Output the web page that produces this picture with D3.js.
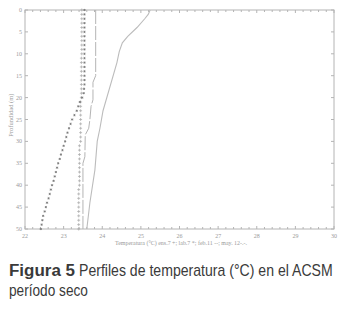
<!DOCTYPE html>
<html>
<head>
<meta charset="utf-8">
<script src="https://cdnjs.cloudflare.com/ajax/libs/d3/7.8.5/d3.min.js"></script>
<style>
  body { margin: 0; background: #fff; }
  svg { display: block; }
</style>
</head>
<body>
<div id="chart"></div>
<script>
// depth (m) of the sampled levels, ens.7 (+) and lab.7 (*)
const depths = [0,1,2,3,4,5,6,7,8,9,10,11,12,13,14,15,16,17,18,19,20,21,22,23,24,25,26,27,28,29,30,31,32,33,34,35,36,37,38,39,40,41,42,43,44,45,46,47,48,49,50];
const ensValues = [23.47,23.47,23.47,23.47,23.47,23.47,23.47,23.47,23.47,23.47,23.47,23.46,23.46,23.46,23.46,23.46,23.46,23.46,23.46,23.46,23.46,23.44,23.44,23.44,23.44,23.44,23.44,23.44,23.44,23.44,23.44,23.41,23.41,23.41,23.41,23.41,23.41,23.41,23.41,23.41,23.41,23.39,23.39,23.39,23.39,23.39,23.39,23.39,23.39,23.39,23.39];
const labValues = [23.54,23.54,23.54,23.54,23.54,23.54,23.54,23.54,23.54,23.54,23.54,23.54,23.54,23.54,23.54,23.54,23.54,23.54,23.53,23.52,23.48,23.42,23.38,23.34,23.28,23.22,23.18,23.14,23.1,23.07,23.04,23.0,22.97,22.93,22.9,22.86,22.83,22.8,22.77,22.74,22.7,22.67,22.64,22.61,22.57,22.54,22.51,22.47,22.45,22.43,22.41];

// feb.11 (--) profile
const febDepths = [0,15,16.5,20.5,22,25,27,28.5,33.5,35,50];
const febValues = [23.83,23.83,23.76,23.76,23.71,23.68,23.65,23.56,23.55,23.5,23.5];

// may.12 (-.-) profile
const mayDepths = [0,1,2,4,6,7.5,9.5,12,23,27,30,36.5,44,50];
const mayValues = [25.24,25.19,25.1,24.9,24.66,24.52,24.44,24.38,24.02,23.94,23.87,23.81,23.68,23.6];

const xTicks = [22,23,24,25,26,27,28,29,30];
const yTicks = [0,5,10,15,20,25,30,35,40,45,50];

const width = 344, height = 312;
const margin = {top: 10, right: 10, bottom: 83, left: 25};
const axisColor = "#b4b4b4";
const textColor = "#9a9a9a";

const svg = d3.select("#chart").append("svg")
    .attr("width", width)
    .attr("height", height);

const x = d3.scaleLinear().domain([22, 30]).range([margin.left, width - margin.right]);
const y = d3.scaleLinear().domain([0, 50]).range([margin.top, height - margin.bottom]);

// frame
svg.append("rect")
    .attr("x", x(22)).attr("y", y(0))
    .attr("width", x(30) - x(22)).attr("height", y(50) - y(0))
    .attr("fill", "none")
    .attr("stroke", axisColor)
    .attr("stroke-width", 1);

// x ticks, major + minor (every 0.2), top and bottom, pointing inward
const minorX = d3.range(0, 41).map(i => 22 + i * 0.2).filter(v => Math.abs(v - Math.round(v)) > 0.01);
const tickG = svg.append("g").attr("stroke", axisColor).attr("stroke-width", 1);
xTicks.forEach(v => {
    tickG.append("line").attr("x1", x(v)).attr("x2", x(v)).attr("y1", y(0)).attr("y2", y(0) + 3);
    tickG.append("line").attr("x1", x(v)).attr("x2", x(v)).attr("y1", y(50)).attr("y2", y(50) - 3);
});
minorX.forEach(v => {
    tickG.append("line").attr("x1", x(v)).attr("x2", x(v)).attr("y1", y(0)).attr("y2", y(0) + 2);
    tickG.append("line").attr("x1", x(v)).attr("x2", x(v)).attr("y1", y(50)).attr("y2", y(50) - 2);
});
yTicks.forEach(v => {
    tickG.append("line").attr("x1", x(22)).attr("x2", x(22) + 3).attr("y1", y(v)).attr("y2", y(v));
    tickG.append("line").attr("x1", x(30)).attr("x2", x(30) - 3).attr("y1", y(v)).attr("y2", y(v));
});

// tick labels
svg.append("g").selectAll("text")
    .data(xTicks)
    .join("text")
    .attr("x", d => x(d))
    .attr("y", y(50) + 9)
    .attr("text-anchor", "middle")
    .attr("font-family", "Liberation Serif, serif")
    .attr("font-size", 6)
    .attr("fill", textColor)
    .text(d => d);

svg.append("g").selectAll("text")
    .data(yTicks)
    .join("text")
    .attr("x", x(22) - 3)
    .attr("y", d => y(d) + 2)
    .attr("text-anchor", "end")
    .attr("font-family", "Liberation Serif, serif")
    .attr("font-size", 6)
    .attr("fill", textColor)
    .text(d => d);

// axis titles
svg.append("text")
    .attr("transform", `translate(13, ${y(24)}) rotate(-90)`)
    .attr("text-anchor", "middle")
    .attr("font-family", "Liberation Serif, serif")
    .attr("font-size", 6.5)
    .attr("fill", textColor)
    .text("Profundidad (m)");

svg.append("text")
    .attr("x", 115)
    .attr("y", y(50) + 16)
    .attr("font-family", "Liberation Serif, serif")
    .attr("font-size", 6)
    .attr("fill", textColor)
    .attr("textLength", 132)
    .attr("lengthAdjust", "spacingAndGlyphs")
    .text("Temperatura (°C) ens.7 +; lab.7 *; feb.11 --; may. 12-.-.");

// lines
const line = d3.line().x(d => x(d[1])).y(d => y(d[0]));

svg.append("path")
    .datum(mayDepths.map((d, i) => [d, mayValues[i]]))
    .attr("d", line)
    .attr("fill", "none")
    .attr("stroke", "#bcbcbc")
    .attr("stroke-width", 1.1);

svg.append("path")
    .datum(febDepths.map((d, i) => [d, febValues[i]]))
    .attr("d", line)
    .attr("fill", "none")
    .attr("stroke", "#b4b4b4")
    .attr("stroke-width", 1)
    .attr("stroke-dasharray", "14,2");

// ens.7 crosses
const cross = svg.append("g").attr("stroke", "#a8a8a8").attr("stroke-width", 0.7);
depths.forEach((d, i) => {
    const cx = x(ensValues[i]), cy = y(d);
    cross.append("line").attr("x1", cx - 1.5).attr("x2", cx + 1.5).attr("y1", cy).attr("y2", cy);
    cross.append("line").attr("x1", cx).attr("x2", cx).attr("y1", cy - 1.5).attr("y2", cy + 1.5);
});

// lab.7 stars
const star = svg.append("g").attr("stroke", "#7a7a7a").attr("stroke-width", 0.7);
depths.forEach((d, i) => {
    const cx = x(labValues[i]), cy = y(d);
    star.append("line").attr("x1", cx - 1.1).attr("x2", cx + 1.1).attr("y1", cy).attr("y2", cy);
    star.append("line").attr("x1", cx).attr("x2", cx).attr("y1", cy - 1.1).attr("y2", cy + 1.1);
    star.append("line").attr("x1", cx - 0.8).attr("x2", cx + 0.8).attr("y1", cy - 0.8).attr("y2", cy + 0.8);
    star.append("line").attr("x1", cx - 0.8).attr("x2", cx + 0.8).attr("y1", cy + 0.8).attr("y2", cy - 0.8);
});

// caption: narrow sans, squeezed horizontally to the widths in the figure
function captionText(txt, x0, y0, w, bold) {
    const t = svg.append("text")
        .attr("font-family", "Liberation Sans, Arial, sans-serif")
        .attr("font-size", 16)
        .attr("font-weight", bold ? "bold" : "normal")
        .attr("fill", "#3a3a3a")
        .text(txt);
    const natural = t.node().getComputedTextLength();
    t.attr("transform", `translate(${x0},${y0}) scale(${w / natural},1)`);
}
captionText("Figura 5", 9, 276, 66, true);
captionText("Perfiles de temperatura (°C) en el ACSM", 79, 276, 254, false);
captionText("período seco", 9, 296, 79, false);
</script>
</body>
</html>
